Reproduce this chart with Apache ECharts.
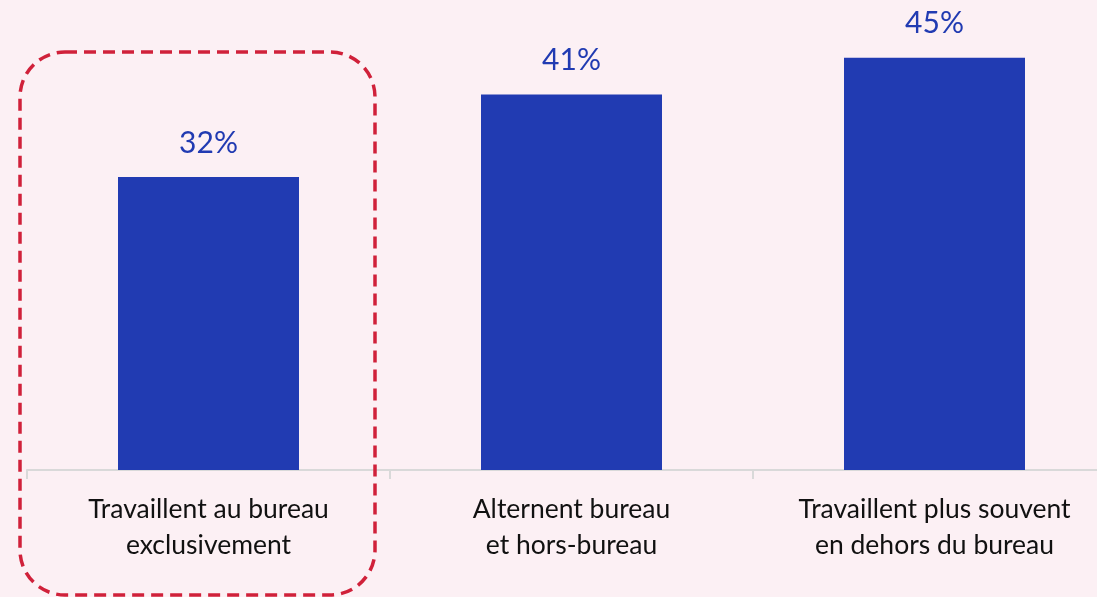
<!DOCTYPE html>
<html>
<head>
<meta charset="utf-8">
<script src="https://cdn.jsdelivr.net/npm/echarts@6/dist/echarts.min.js"></script>
<style>
  html, body { margin: 0; padding: 0; background: #fcf0f4; }
  #chart { width: 1097px; height: 597px; }
</style>
</head>
<body>
<div id="chart"></div>
<script>
// données
var categories = ['Travaillent au bureau\nexclusivement', 'Alternent bureau\net hors-bureau', 'Travaillent plus souvent\nen dehors du bureau'];
var values = [32, 41, 45];

var myChart = echarts.init(document.getElementById('chart'));

var option = {
    backgroundColor: '#fcf0f4',
    textStyle: { fontFamily: 'Lato' },
    grid: { left: 27, right: -19, top: 12, bottom: 127, outerBoundsMode: 'none', containLabel: false },
    xAxis: {
        type: 'category',
        data: categories,
        axisLine: { lineStyle: { color: '#d9d9d9', width: 2 } },
        axisTick: { show: true, length: 9, lineStyle: { color: '#d9d9d9', width: 2 } },
        axisLabel: {
            color: '#111',
            fontSize: 26.5,
            lineHeight: 36,
            margin: 21,
            fontFamily: 'Lato'
        }
    },
    yAxis: {
        type: 'value',
        min: 0,
        max: 50,
        show: false,
        splitLine: { show: false }
    },
    series: [{
        type: 'bar',
        data: values,
        barWidth: 181,
        itemStyle: { color: '#213bb2' },
        label: {
            show: true,
            position: 'top',
            distance: 19,
            formatter: '{c}%',
            color: '#213bb2',
            fontSize: 30,
            fontFamily: 'Lato'
        }
    }],
    graphic: [{
        type: 'rect',
        shape: { x: 20, y: 52, width: 355, height: 543, r: 45 },
        style: { fill: 'none', stroke: '#d0213a', lineWidth: 3.5, lineDash: [12, 7] },
        z: 10
    }]
};

myChart.setOption(option);
</script>
</body>
</html>
